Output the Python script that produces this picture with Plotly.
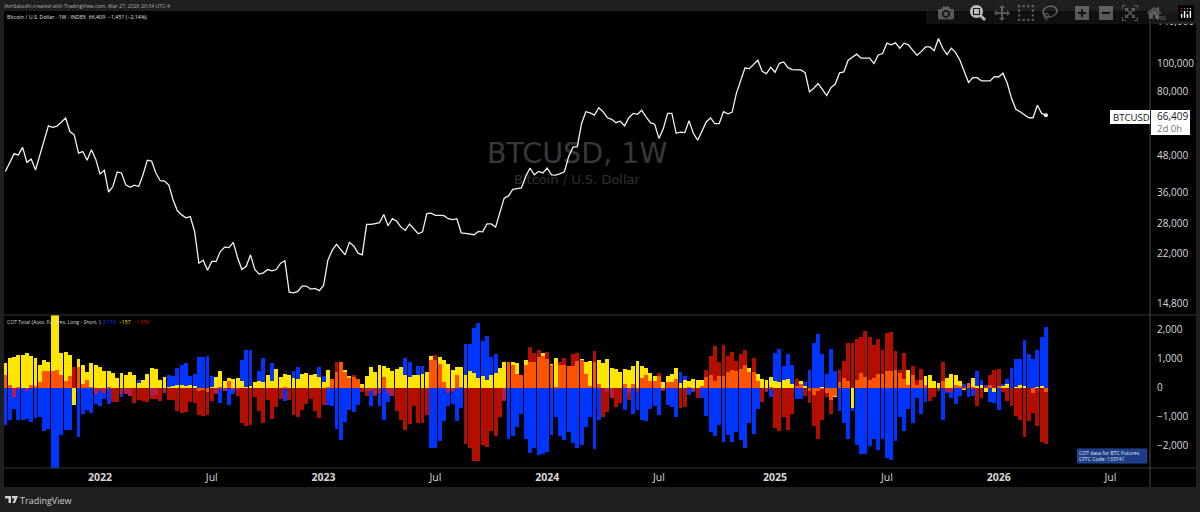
import pandas as pd
import plotly.graph_objects as go
from plotly.subplots import make_subplots

price = [
    42400, 45300, 48800, 48400, 51400, 45600, 46800, 42900, 48400, 54300,
    61000, 60300, 60900, 62800, 65000, 58300, 56800, 49100, 49700, 46400,
    50400, 46800, 41600, 42800, 36000, 37600, 42200, 41900, 38100, 37400,
    38000, 37600, 41300, 46400, 46100, 41900, 39400, 39300, 38100, 33800,
    31000, 30000, 29300, 29600, 26300, 20400, 20900, 19300, 20700, 20700,
    22400, 23200, 23100, 24100, 21300, 19400, 19900, 21800, 19400, 18700,
    18900, 19400, 19200, 19400, 20400, 20800, 16200, 16100, 16300, 17000,
    17000, 16600, 16700, 16400, 17100, 20900, 22600, 23700, 22700, 21800,
    24100, 23400, 22100, 21800, 27800, 27800, 28000, 28200, 30100, 27500,
    29100, 28500, 27200, 26500, 27900, 26900, 25800, 26200, 30300, 30400,
    29900, 29900, 29800, 29100, 28900, 29100, 26000, 25900, 25800, 25600,
    26300, 26200, 27900, 27900, 27200, 30400, 34300, 34900, 36800, 37000,
    37200, 40700, 43600, 41300, 42400, 41900, 43600, 41300, 41200, 41700,
    42300, 47800, 51500, 51700, 62200, 68300, 67700, 66500, 70500, 68300,
    65100, 64300, 62600, 63300, 61000, 65100, 67400, 66900, 69100, 65600,
    62600, 61800, 55200, 59600, 67400, 67400, 57500, 58000, 57800, 63600,
    57500, 54400, 58300, 63000, 65000, 62100, 62100, 68300, 67200, 68000,
    79100, 88000, 96800, 96300, 100000, 103000, 94200, 92500, 97400, 93600,
    100500, 101600, 97100, 95600, 95300, 95300, 93300, 80000, 82400, 85500,
    81700, 77700, 82800, 85200, 93100, 93800, 103000, 105600, 108100, 104700,
    104700, 104700, 100300, 107400, 108600, 118000, 116400, 118300, 113300, 118000,
    116400, 111800, 107100, 110300, 114500, 114500, 111100, 122400, 113300, 107700,
    113300, 109400, 103000, 94200, 86200, 89600, 89600, 87300, 87500, 87300,
    90300, 90100, 92900, 85700, 76000, 69600, 68300, 66900, 65100, 65100,
    71900, 67400, 66409,
]

cot_blue = [
    -1290, -1100, -720, -1100, -1100, -1090, -1180, -1060, -1010, -1510,
    -1430, -3210, -3250, -1620, -1470, -1470, -140, -1690, -900, -780,
    -870, -550, -620, -380, -550, -20, 140, -320, -230, -280,
    80, 280, 180, 0, -290, -250, 180, -180, 430, 390,
    690, 790, 850, 410, 480, 1060, 1060, 1080, 410, -170,
    -520, -120, -590, -230, -70, 950, 1290, 1310, 140, 580,
    1020, -30, 860, 20, 20, -460, 0, 580, 710, 320,
    60, -50, 310, 700, 390, -600, -620, -1430, -1790, -1170,
    -780, -830, -610, 50, -120, -630, -260, -620, -1130, -480,
    -290, 170, 410, 1020, 900, 180, 760, 740, 390, -2090,
    -2070, -1850, -1160, -640, -550, -1150, -710, 1520, 1510, 2050,
    2230, 1600, 1790, 1070, 1160, 330, -440, -1760, -1670, -1350,
    -890, -1760, -2250, -2070, -2330, -2290, -2230, -1620, -1000, -1660,
    -1790, -1530, -1910, -2090, -1970, -1370, -1000, -2100, -1100, 160,
    -160, -340, 0, 0, -780, -180, -900, -760, -1130, -1140,
    -720, -640, -930, -90, -590, -660, -1000, 550, 390, -250,
    -160, 90, -360, -970, -1540, -1680, -1280, -1870, -1640, -1860,
    -1530, -1790, -2080, -1200, -1590, -720, 170, -120, -320, 1200,
    1330, 740, 1170, 780, -380, -380, 210, 620, 1540, 1840,
    1170, 480, 1330, 590, -790, -1230, -1770, -820, -1960, -2270,
    -2300, -2020, -1770, -2160, -1760, -2430, -2480, -1850, -1010, -1510,
    -740, -1210, -370, -910, -480, 50, 90, -70, -1130, -170,
    -370, -560, -290, 130, -310, -290, 580, 260, 100, -510,
    -530, -760, 120, 290, 680, 990, 1000, 1630, 1160, 1000,
    1300, 1750, 2110,
]

cot_yellow = [
    850, 1010, 1050, 1140, 1120, 1210, 1090, 1010, 780, 970,
    890, 2650, 2650, 1200, 1240, 1130, -580, 990, 790, 530,
    840, 770, 710, 580, 580, 520, 350, 510, 440, 550,
    440, 160, 280, 480, 680, 640, 280, 370, 20, 30,
    80, 80, 60, 100, 50, -120, -70, -150, 20, 380,
    580, 240, 330, 310, 350, 240, 20, 50, 200, 240,
    200, 450, 230, 640, 370, 470, 440, 350, 310, 460,
    510, 450, 480, 360, 180, 620, 310, 540, 900, 620,
    410, 370, 300, 120, 390, 720, 540, 790, 740, 670,
    590, 640, 710, 450, 360, 440, 440, 460, 540, 1100,
    970, 1050, 970, 830, 620, 700, 700, 430, 590, 490,
    320, 410, 250, 440, 520, 670, 900, 900, 870, 860,
    450, 940, 890, 890, 1050, 1210, 990, 830, 1020, 790,
    790, 740, 760, 910, 1000, 900, 930, 870, 970, 850,
    990, 680, 660, 530, 640, 600, 760, 910, 750, 680,
    490, 390, 410, 210, 410, 470, 670, 160, 280, 220,
    290, 250, 280, 370, 450, 240, 410, 410, 530, 620,
    590, 640, 780, 690, 550, 480, 310, 280, 360, 230,
    180, 280, 310, 140, 70, 230, 70, -100, -240, -100,
    -50, -180, -440, -320, 200, 320, 240, -710, 280, 510,
    380, 280, 330, 480, 480, 580, 580, 620, 510, 300,
    610, 440, 90, 250, 410, 430, 240, 170, 230, 320,
    470, 430, 230, -90, 160, 350, 30, 80, -150, 80,
    -140, 60, 30, 130, 0, 10, 80, 60, 0, -170,
    10, 70, -157,
]

cot_red = [
    450, 100, -320, -20, 0, -110, 90, 60, 180, 560,
    560, 560, 600, 430, 240, 390, 710, 710, 140, 250,
    -10, -230, -100, -180, -50, -490, -480, -210, -210, -280,
    -520, -410, -460, -490, -390, -390, -460, -180, -440, -430,
    -790, -870, -830, -510, -530, -940, -990, -940, -460, -210,
    -60, -130, 240, -80, -280, -1200, -1330, -1300, -330, -820,
    -1220, -410, -1080, -670, -390, -60, -440, -930, -1010, -780,
    -560, -400, -790, -1050, -590, -20, 310, 900, 900, 550,
    350, 430, 310, -160, -280, -100, -280, -180, 380, -180,
    -300, -820, -1130, -1460, -1240, -620, -1200, -1200, -930, 970,
    1130, 830, 210, -180, -100, 450, 10, -1930, -2090, -2520,
    -2540, -1990, -2040, -1480, -1670, -1000, -460, 900, 790, 480,
    440, 790, 1400, 1180, 1310, 1090, 1240, 790, -20, 900,
    1020, 760, 1150, 1200, 970, 470, 70, 1250, 140, -1010,
    -830, -340, -660, -530, 140, -410, 140, -160, 350, 440,
    240, 240, 510, -120, 180, 180, 310, -710, -670, 20,
    -130, -340, 70, 600, 1100, 1450, 870, 1460, 1100, 1230,
    930, 1170, 1290, 530, 1040, 240, -480, -160, -30, -1400,
    -1510, -1010, -1470, -920, 300, 140, -280, -520, -1310, -1760,
    -1130, -320, -910, -300, 600, 930, 1540, 1540, 1690, 1750,
    1940, 1740, 1460, 1690, 1310, 1870, 1930, 1250, 620, 1180,
    90, 750, 260, 630, 90, -470, -330, -120, 870, -150,
    -140, 90, 60, -30, 150, -60, -620, -370, 50, 430,
    610, 640, -150, -470, -620, -980, -1120, -1710, -1140, -860,
    -1320, -1870, -1950,
]

tick_dates = ["2022-01-03", "2022-07-04", "2023-01-02", "2023-07-03", "2024-01-01",
              "2024-07-01", "2025-01-06", "2025-07-07", "2026-01-05", "2026-07-06"]
tick_text = ["<b>2022</b>", "Jul", "<b>2023</b>", "Jul", "<b>2024</b>",
             "Jul", "<b>2025</b>", "Jul", "<b>2026</b>", "Jul"]
price_ticks = [14800, 22000, 28000, 36000, 48000, 80000, 100000, 140000]
cot_ticks = [-2000, -1000, 0, 1000, 2000]

BG = "#1f1f1f"
LINE = "#363636"
FONT = "Open Sans"


def fx(x):
    # page pixels to paper coords, plot area is 4..1150 x 11..468
    return (x - 4) / 1146


def fy(y):
    return (468 - y) / 457


def box(x0, y0, x1, y1, fill, line=None):
    return dict(type="rect", xref="paper", yref="paper", x0=fx(x0), x1=fx(x1), y0=fy(y0), y1=fy(y1),
                fillcolor=fill, line=dict(color=line or fill, width=1 if line else 0))


def label(x, y, text, size, color, xanchor="left", family=FONT):
    return dict(xref="paper", yref="paper", x=fx(x), y=fy(y), text=text, showarrow=False, xanchor=xanchor,
                yanchor="middle", align="left", font=dict(size=size, color=color, family=family),
                borderpad=0, borderwidth=0)


dates = pd.date_range("2021-08-02", periods=len(cot_blue), freq="7D")
price_dates = pd.date_range(end=dates[-1], periods=len(price), freq="7D")

fig = make_subplots(rows=2, cols=1, shared_xaxes=True, vertical_spacing=0, row_heights=[0.6652, 0.3348])

fig.add_trace(go.Scatter(x=price_dates, y=price, mode="lines", line=dict(color="#f2f2f2", width=1.3)), row=1, col=1)
fig.add_trace(go.Scatter(x=price_dates[-1:], y=price[-1:], mode="markers", marker=dict(color="#ffffff", size=4)), row=1, col=1)

bar_w = 7 * 86400000 * 0.9
fig.add_trace(go.Bar(x=dates, y=cot_blue, width=bar_w, marker=dict(color="#0034ff", line_width=0)), row=2, col=1)
fig.add_trace(go.Bar(x=dates, y=cot_yellow, width=bar_w, marker=dict(color="#ffe600", line_width=0)), row=2, col=1)
fig.add_trace(go.Bar(x=dates, y=cot_red, width=bar_w, marker=dict(color="rgb(255,20,0)", opacity=0.7, line_width=0)), row=2, col=1)

x_range = [dates[0] - pd.Timedelta(days=2.3), dates[0] + pd.Timedelta(weeks=266.2)]

fig.update_xaxes(range=x_range, showgrid=False, zeroline=False, showline=False, ticks="")
fig.update_xaxes(showticklabels=False, row=1, col=1)
fig.update_xaxes(tickmode="array", tickvals=tick_dates, ticktext=tick_text, ticklabelstandoff=1,
                 tickfont=dict(size=10.5, color="#d8d8d8", family=FONT), row=2, col=1)

fig.update_yaxes(side="right", showgrid=False, zeroline=False, showline=False, ticks="",
                 tickfont=dict(size=10, color="#dcdcdc", family=FONT), tickmode="array", ticklabelstandoff=6)
fig.update_yaxes(type="log", range=[4.1303, 5.1833], tickvals=price_ticks,
                 ticktext=[f"{t:,}" for t in price_ticks], row=1, col=1)
fig.update_yaxes(range=[-2769, 2507], tickvals=cot_ticks, ticktext=["\u22122,000", "\u22121,000", "0", "1,000", "2,000"],
                 row=2, col=1)

shapes = [
    box(4, 11, 1196, 487, "#000000"),
]
for s in shapes:
    s["layer"] = "below"

# pane separators
for y in (315, 468):
    shapes.append(dict(type="line", xref="paper", yref="paper", x0=fx(4), x1=fx(1196), y0=fy(y), y1=fy(y),
                       line=dict(color=LINE, width=1)))
shapes.append(dict(type="line", xref="paper", yref="paper", x0=fx(1150), x1=fx(1150), y0=fy(11), y1=fy(487),
                   line=dict(color="#484848", width=1)))

# price tags on the scale, USD box and the footer note
shapes += [
    box(1110, 110, 1150, 124, "#ffffff"),
    box(1151, 110, 1190, 135, "#ffffff"),
    box(1153, 12, 1195, 23, "#111111", "#2c2c2c"),
    box(1077.5, 449, 1146.5, 463, "#1c3c88", "#2a4a9a"),
]

# logo mark
logo_pts = [[(5, 496), (11, 496), (11, 503), (8.5, 503), (8.5, 498.5), (5, 498.5)],
            [(12, 496), (18, 496), (15, 503), (12.5, 503), (14.6, 498.5), (12, 498.5)]]
logo_path = " ".join("M" + " L".join(f"{fx(x)},{fy(y)}" for x, y in part) + " Z" for part in logo_pts)
shapes.append(dict(type="path", xref="paper", yref="paper", path=logo_path, fillcolor="#d0d0d0", line_width=0))

annotations = [
    label(4, 6, "IAmSatoshi created with TradingView.com, Mar 27, 2026 20:34 UTC-4", 5.2, "#b0b0b0"),
    label(7, 17, "Bitcoin / U.S. Dollar \u00b7 1W \u00b7 INDEX  66,409  \u22121,451 (\u22122.14%)", 5.3, "#e0e0e0"),
    label(7, 321.5, "COT Total (Auto, Futures, Long - Short, )  <span style='color:#0a3cff'>2.11K</span>  "
                    "<span style='color:#ffe600'>\u2212157</span>  <span style='color:#d01000'>\u22121.95K</span>", 5.1, "#d8d8d8"),
    label(577, 153, "BTCUSD, 1W", 28.5, "rgba(255,255,255,0.24)", "center", "DejaVu Sans"),
    label(577, 180, "Bitcoin / U.S. Dollar", 13, "rgba(255,255,255,0.2)", "center", "DejaVu Sans"),
    label(1113, 117, "BTCUSD", 9.6, "#131722"),
    label(1157, 116.5, "66,409", 10, "#131722"),
    label(1157, 128, "2d 0h", 9.6, "#777777"),
    label(1156, 17.5, "USD", 5, "#c8c8c8"),
    label(1079, 453, "COT data for BTC Futures", 5.1, "#e8e8e8"),
    label(1079, 459, "CFTC Code: 133741", 5.1, "#e8e8e8"),
    label(20, 500, "TradingView", 9, "#d0d0d0"),
]

fig.update_layout(
    width=1200, height=512, autosize=False,
    margin=dict(l=4, r=50, t=11, b=44, pad=0),
    paper_bgcolor=BG, plot_bgcolor="rgba(0,0,0,0)",
    barmode="overlay", bargap=0, showlegend=False,
    shapes=shapes, annotations=annotations,
)

# the page's default body margin would push the whole figure 8px off
fig.write_html("out.html", post_script="document.body.style.margin='0';")
